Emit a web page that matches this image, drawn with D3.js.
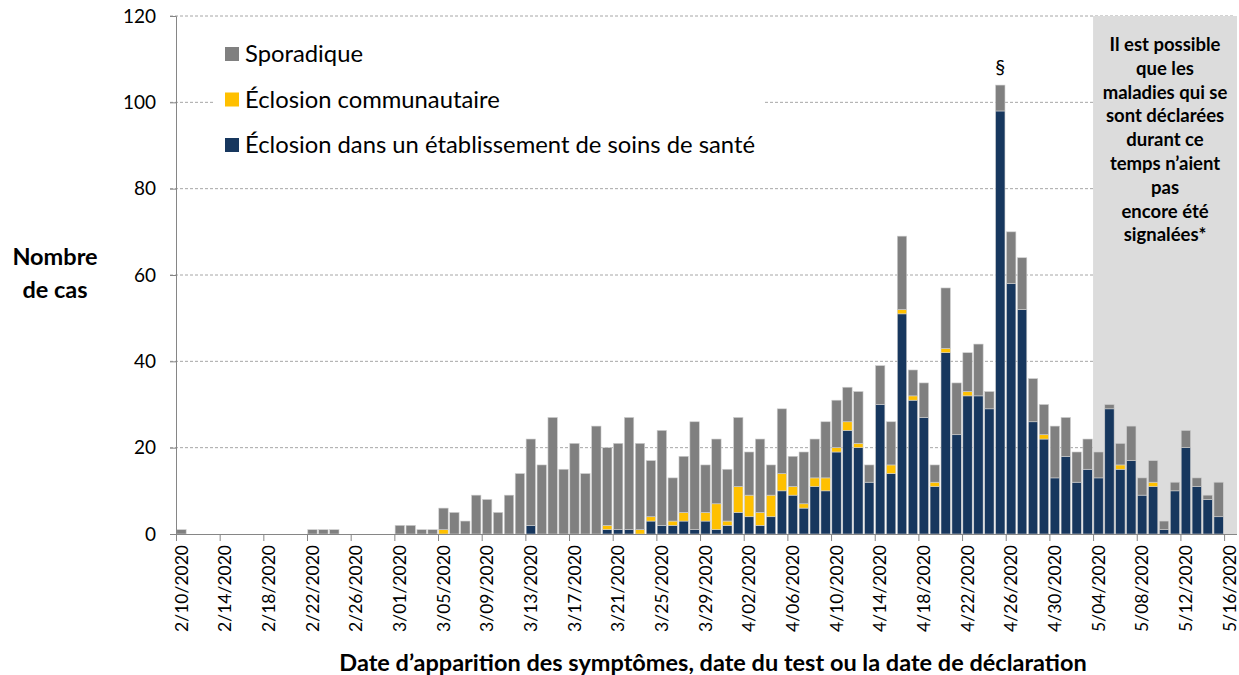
<!DOCTYPE html>
<html>
<head>
<meta charset="utf-8">
<script src="https://cdn.jsdelivr.net/npm/d3@7"></script>
<style>
  body { margin: 0; background: #fff; }
  text { font-family: Lato, "Noto Sans", sans-serif; fill: #000; }
</style>
</head>
<body>
<svg id="paper" width="1239" height="675"></svg>
<script>
// one category per day, 2/10/2020 to 5/16/2020
let dates = d3.timeDay.range(new Date(2020, 1, 10), new Date(2020, 4, 17));

// cases per day (feb | mar | apr | may)
let etablissement = [
    0,0,0,0,0,0,0,0,0,0,0,0,0,0,0,0,0,0,0,0,
    0,0,0,0,0,0,0,0,0,0,0,0,2,0,0,0,0,0,0,1,1,1,0,3,2,2,3,1,3,1,2,
    5,4,2,4,10,9,6,11,10,19,24,20,12,30,14,51,31,27,11,42,23,32,32,29,98,58,52,26,22,13,
    18,12,15,13,29,15,17,9,11,1,10,20,11,8,4,0
];
let communautaire = [
    0,0,0,0,0,0,0,0,0,0,0,0,0,0,0,0,0,0,0,0,
    0,0,0,0,1,0,0,0,0,0,0,0,0,0,0,0,0,0,0,1,0,0,1,1,0,1,2,0,2,6,1,
    6,5,3,5,4,2,1,2,3,1,2,1,0,0,2,1,1,0,1,1,0,1,0,0,0,0,0,0,1,0,
    0,0,0,0,0,1,0,0,1,0,0,0,0,0,0,0
];
let sporadique = [
    1,0,0,0,0,0,0,0,0,0,0,0,1,1,1,0,0,0,0,0,
    2,2,1,1,5,5,3,9,8,5,9,14,20,16,27,15,21,14,25,18,20,26,20,13,22,10,13,25,11,15,12,
    16,10,17,7,15,7,12,9,13,11,8,12,4,9,10,17,6,8,4,14,12,9,12,4,6,12,12,10,7,12,
    9,7,7,6,1,5,8,4,5,2,2,4,2,1,8,0
];

let series = ["etablissement", "communautaire", "sporadique"];
let seriesColors = ["#17375e", "#ffc000", "#808080"];
let legendLabels = ["Sporadique", "Éclosion communautaire", "Éclosion dans un établissement de soins de santé"];
let legendColors = ["#808080", "#ffc000", "#17375e"];

let yTicks = [0, 20, 40, 60, 80, 100, 120];
let shadeFrom = new Date(2020, 4, 4);
let noteLines = ["Il est possible", "que les", "maladies qui se", "sont déclarées", "durant ce",
    "temps n’aient", "pas", "encore été", "signalées*"];
let peakDate = new Date(2020, 3, 25);

let rows = dates.map((d, i) => ({
    date: d,
    etablissement: etablissement[i],
    communautaire: communautaire[i],
    sporadique: sporadique[i]
}));

// plot area
let plotLeft = 176, plotRight = 1235, plotTop = 16, plotBottom = 534;

let svg = d3.select("#paper");
let fmt = d3.timeFormat("%-m/%d/%Y");

let x = d3.scaleBand()
    .domain(dates.map(d => +d))
    .range([plotLeft, plotRight])
    .paddingInner(0.14)
    .paddingOuter(0.07);
let step = x.step();

let y = d3.scaleLinear()
    .domain([0, 120])
    .range([plotBottom, plotTop]);

// dashed gridlines
svg.append("g")
    .selectAll("line")
    .data(yTicks.filter(t => t > 0))
    .enter().append("line")
    .attr("x1", plotLeft - 6)
    .attr("x2", plotRight)
    .attr("y1", d => y(d))
    .attr("y2", d => y(d))
    .attr("stroke", "#a6a6a6")
    .attr("stroke-dasharray", "3,2")
    .attr("stroke-width", 1);

// grey zone for the last days
let shadeX = x(+shadeFrom) - step * 0.07;
svg.append("rect")
    .attr("x", shadeX)
    .attr("y", plotTop)
    .attr("width", plotRight + 2 - shadeX)
    .attr("height", plotBottom - plotTop)
    .attr("fill", "#dcdcdc");

// stacked bars
let stack = d3.stack().keys(series);
svg.append("g")
    .selectAll("g")
    .data(stack(rows))
    .enter().append("g")
    .attr("fill", (d, i) => seriesColors[i])
    .selectAll("rect")
    .data(d => d.filter(p => p[1] > p[0]))
    .enter().append("rect")
    .attr("x", d => x(+d.data.date))
    .attr("width", x.bandwidth())
    .attr("y", d => y(d[1]))
    .attr("height", d => y(d[0]) - y(d[1]))
    .attr("stroke", "#cfcfcf")
    .attr("stroke-width", 0.6);

// y axis
let yAxis = svg.append("g")
    .attr("transform", "translate(" + plotLeft + ",0)")
    .call(d3.axisLeft(y).tickValues(yTicks).tickSize(6).tickPadding(14));
yAxis.select(".domain").attr("stroke", "#868686");
yAxis.selectAll(".tick line").attr("stroke", "#868686");
yAxis.selectAll(".tick text")
    .style("font-size", "19px")
    .style("font-family", "Lato, sans-serif")
    .attr("fill", "#000");

// x axis, a label every 4 days
let xTicks = dates.filter((d, i) => i % 4 === 0).map(d => +d);
let xAxis = svg.append("g")
    .attr("transform", "translate(0," + plotBottom + ")")
    .call(d3.axisBottom(x).tickValues(xTicks).tickSizeOuter(0).tickSize(7).tickFormat(d => fmt(new Date(d))));
xAxis.select(".domain")
    .attr("stroke", "#868686")
    .attr("d", "M" + plotLeft + ",0.5H" + (plotRight + 2));
xAxis.selectAll(".tick line")
    .attr("stroke", "#868686")
    .attr("x1", -step / 2 + 0.5)
    .attr("x2", -step / 2 + 0.5);
xAxis.selectAll(".tick text")
    .style("font-size", "17.5px")
    .style("font-family", "Lato, sans-serif")
    .attr("fill", "#000")
    .attr("transform", "rotate(-90)")
    .attr("text-anchor", "end")
    .attr("x", -11)
    .attr("y", 0)
    .attr("dy", "0.35em");

// legend box
svg.append("rect")
    .attr("x", 213).attr("y", 26)
    .attr("width", 552).attr("height", 134)
    .attr("fill", "#fff");
let legend = svg.append("g")
    .selectAll("g")
    .data(legendLabels)
    .enter().append("g")
    .attr("transform", (d, i) => "translate(225," + (47 + i * 45.5) + ")");
legend.append("rect")
    .attr("width", 14).attr("height", 14)
    .attr("fill", (d, i) => legendColors[i]);
legend.append("text")
    .attr("x", 20).attr("y", 7)
    .attr("dy", "0.35em")
    .style("font-size", "23.8px")
    .text(d => d);

// note in the grey zone
svg.append("text")
    .attr("text-anchor", "middle")
    .style("font-size", "18.5px")
    .style("font-weight", "bold")
    .selectAll("tspan")
    .data(noteLines)
    .enter().append("tspan")
    .attr("x", (shadeX + plotRight + 2) / 2)
    .attr("y", (d, i) => 51 + i * 23.8)
    .text(d => d);

// § above the peak
svg.append("text")
    .attr("x", x(+peakDate) + x.bandwidth() / 2)
    .attr("y", 74)
    .attr("text-anchor", "middle")
    .style("font-size", "20px")
    .text("§");

// axis titles
svg.append("text")
    .attr("text-anchor", "middle")
    .style("font-size", "23.5px")
    .style("font-weight", "bold")
    .selectAll("tspan")
    .data(["Nombre", "de cas"])
    .enter().append("tspan")
    .attr("x", 55)
    .attr("y", (d, i) => 265 + i * 33)
    .text(d => d);

svg.append("text")
    .attr("x", 713)
    .attr("y", 671)
    .attr("text-anchor", "middle")
    .style("font-size", "23.5px")
    .style("font-weight", "bold")
    .text("Date d’apparition des symptômes, date du test ou la date de déclaration");
</script>
</body>
</html>
